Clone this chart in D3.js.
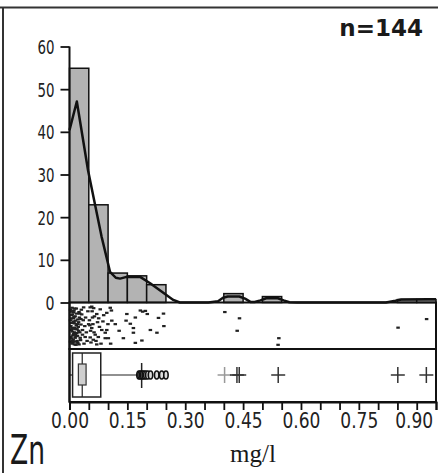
<!DOCTYPE html>
<html><head><meta charset="utf-8">
<script src="https://cdn.jsdelivr.net/npm/d3@7"></script>
<style>
html,body{margin:0;padding:0;background:#fff;}
svg{display:block;}
</style></head>
<body>
<svg id="chart" width="438" height="473"></svg>
<script>
// ---------- data ----------
const binStarts = [0.00, 0.05, 0.10, 0.15, 0.20, 0.40, 0.50, 0.85, 0.90];
const binPercent = [54.9, 22.9, 6.9, 6.25, 4.17, 2.08, 1.39, 0.69, 0.69];
const binWidth = 0.05;

const densX = [0, 0.019, 0.048, 0.066, 0.083, 0.105, 0.12, 0.131, 0.148, 0.183, 0.209, 0.244, 0.269, 0.286, 0.36, 0.385, 0.398, 0.41, 0.44, 0.455, 0.47, 0.48, 0.495, 0.51, 0.54, 0.555, 0.57, 0.59, 0.82, 0.845, 0.86, 0.93, 0.95];
const densY = [40.4, 47.1, 31, 23, 15.5, 7.2, 5.8, 5.6, 6.0, 6.0, 4.5, 2.2, 0.6, 0, 0, 0.3, 1.1, 1.4, 1.4, 0.9, 0.1, 0.1, 0.5, 1.0, 1.0, 0.5, 0.05, 0, 0, 0.4, 0.7, 0.75, 0.75];

// strip plot points: [value mg/l, vertical jitter 0..1]
const stripPoints = [
[0.002,0.08],[0.004,0.30],[0.006,0.55],[0.003,0.78],[0.008,0.92],[0.010,0.15],[0.005,0.42],[0.012,0.66],[0.007,0.20],[0.009,0.85],
[0.011,0.38],[0.013,0.05],[0.004,0.60],[0.015,0.72],[0.006,0.95],[0.014,0.25],[0.017,0.48],[0.002,0.35],[0.019,0.88],[0.008,0.12],
[0.016,0.58],[0.010,0.70],[0.021,0.33],[0.003,0.50],[0.012,0.97],[0.018,0.18],[0.007,0.64],[0.020,0.45],[0.005,0.82],[0.023,0.62],
[0.011,0.10],[0.014,0.90],[0.025,0.28],[0.009,0.40],[0.016,0.76],[0.022,0.52],[0.004,0.22],[0.013,0.54],[0.027,0.80],[0.006,0.03],
[0.018,0.68],[0.024,0.14],[0.010,0.30],[0.029,0.46],[0.015,0.36],[0.002,0.90],[0.021,0.93],[0.008,0.74],[0.026,0.66],[0.012,0.43],
[0.031,0.20],[0.017,0.05],[0.005,0.13],[0.028,0.86],[0.019,0.58],[0.033,0.60],[0.009,0.57],[0.023,0.40],[0.014,0.80],[0.035,0.35],
[0.007,0.88],[0.030,0.08],[0.020,0.75],[0.037,0.95],[0.011,0.26],[0.026,0.18],[0.039,0.50],[0.016,0.98],[0.033,0.72],[0.041,0.28],
[0.024,0.97],[0.043,0.66],[0.013,0.70],[0.036,0.02],[0.045,0.88],[0.029,0.32],[0.047,0.12],[0.040,0.78],[0.049,0.45],
[0.053,0.02],[0.057,0.00],[0.062,0.04],[0.070,0.19],[0.079,0.07],[0.096,0.16],[0.057,0.55],[0.083,0.60],[0.092,0.67],[0.096,0.60],
[0.053,0.79],[0.092,0.81],[0.051,0.35],[0.055,0.92],[0.060,0.45],[0.064,0.25],[0.066,0.72],[0.058,0.12],[0.068,0.88],[0.072,0.40],
[0.054,0.62],[0.075,0.30],[0.061,0.85],[0.077,0.52],[0.052,0.48],[0.081,0.95],[0.063,0.66],[0.086,0.38],[0.059,0.28],[0.070,0.97],
[0.088,0.22],[0.074,0.78],[0.099,0.45],
[0.105,0.03],[0.108,0.10],[0.109,0.36],[0.100,0.81],[0.106,0.95],[0.118,0.45],[0.146,0.36],[0.148,0.19],[0.139,0.81],[0.128,0.62],
[0.157,0.44],[0.165,0.55],[0.165,0.67],[0.170,0.28],[0.170,0.93],[0.183,0.10],[0.189,0.13],[0.196,0.11],[0.187,0.87],
[0.201,0.19],[0.209,0.60],[0.226,0.67],[0.230,0.29],[0.243,0.18],[0.244,0.50],
[0.402,0.14],[0.440,0.30],[0.434,0.62],[0.542,0.81],[0.540,0.98],[0.851,0.54],[0.925,0.32]
];

// box plot summary
const boxOuter = [0.008, 0.081];
const boxInner = [0.023, 0.043];
const boxMedian = 0.033;
const whiskerLow = 0.0;
const whiskerHigh = 0.187;
const nearOutliers = [0.180, 0.183, 0.187, 0.190, 0.194, 0.198, 0.203, 0.210, 0.226, 0.239, 0.250];
const farOutliers = [0.402, 0.434, 0.440, 0.541, 0.851, 0.925];

const yTicks = [0, 10, 20, 30, 40, 50, 60];
const xTicks = [0,0.05,0.10,0.15,0.20,0.25,0.30,0.35,0.40,0.45,0.50,0.55,0.60,0.65,0.70,0.75,0.80,0.85,0.90,0.95];
const xLabels = [0.00, 0.15, 0.30, 0.45, 0.60, 0.75, 0.90];

const element = "Zn";
const unit = "mg/l";
const nLabel = "n=144";

// ---------- drawing ----------
const svg = d3.select("#chart");
const narrow = "'Liberation Sans Narrow','Arial Narrow','DejaVu Sans Condensed',sans-serif";

const x = d3.scaleLinear().domain([0, 0.95]).range([69.5, 436]);
const y = d3.scaleLinear().domain([0, 60]).range([302.5, 46.5]);
const yStrip = d3.scaleLinear().domain([0, 1]).range([306.5, 345.5]);
const boxTop = 353, boxBot = 397, boxMid = 375;

// outer frame (scanned page border)
svg.append("line").attr("x1",0).attr("x2",438).attr("y1",7.5).attr("y2",7.5).attr("stroke","#333").attr("stroke-width",2);
svg.append("line").attr("x1",3).attr("x2",3).attr("y1",7.5).attr("y2",473).attr("stroke","#333").attr("stroke-width",2);

// histogram bars
svg.append("g").selectAll("rect").data(binStarts).join("rect")
  .attr("x", (d) => x(d))
  .attr("width", (d) => x(d + binWidth) - x(d))
  .attr("y", (d, i) => y(binPercent[i]))
  .attr("height", (d, i) => y(0) - y(binPercent[i]))
  .attr("fill", "#b3b3b3")
  .attr("stroke", "#111")
  .attr("stroke-width", 1.5);

// density curve
const line = d3.line().x((d) => x(d[0])).y((d) => y(d[1]));
svg.append("path").datum(densX.map((v, i) => [v, densY[i]]))
  .attr("d", line).attr("fill", "none").attr("stroke", "#111").attr("stroke-width", 2.5)
  .attr("stroke-linejoin","round");

// panels
svg.append("rect").attr("x", x(0)).attr("y", y(0)).attr("width", x(0.95) - x(0)).attr("height", 349 - y(0))
  .attr("fill", "none").attr("stroke", "#111").attr("stroke-width", 2);
svg.append("rect").attr("x", x(0)).attr("y", 349).attr("width", x(0.95) - x(0)).attr("height", 402 - 349)
  .attr("fill", "none").attr("stroke", "#111").attr("stroke-width", 2);

// strip points
svg.append("g").selectAll("rect").data(stripPoints).join("rect")
  .attr("x", (d) => x(d[0]) - 1.5)
  .attr("y", (d) => yStrip(d[1]) - 1)
  .attr("width", 3.5).attr("height", 2.2)
  .attr("fill", "#222");

// box plot
const gb = svg.append("g");
gb.append("line").attr("x1", x(whiskerLow)).attr("x2", x(boxOuter[0])).attr("y1", boxMid).attr("y2", boxMid).attr("stroke","#222").attr("stroke-width",1.2);
gb.append("line").attr("x1", x(boxOuter[1])).attr("x2", x(whiskerHigh)).attr("y1", boxMid).attr("y2", boxMid).attr("stroke","#222").attr("stroke-width",1.2);
gb.append("line").attr("x1", x(whiskerHigh)).attr("x2", x(whiskerHigh)).attr("y1", 363).attr("y2", 388).attr("stroke","#222").attr("stroke-width",1.5);
gb.append("rect").attr("x", x(boxOuter[0])).attr("y", boxTop).attr("width", x(boxOuter[1]) - x(boxOuter[0])).attr("height", boxBot - boxTop)
  .attr("fill","none").attr("stroke","#222").attr("stroke-width",1.5);
gb.append("line").attr("x1", x(boxMedian)).attr("x2", x(boxMedian)).attr("y1", boxTop).attr("y2", boxBot).attr("stroke","#222").attr("stroke-width",1.2);
gb.append("rect").attr("x", x(boxInner[0])).attr("y", 364).attr("width", x(boxInner[1]) - x(boxInner[0])).attr("height", 21)
  .attr("fill","#cfcfcf").attr("stroke","#333").attr("stroke-width",1.2);
gb.selectAll("ellipse").data(nearOutliers).join("ellipse")
  .attr("cx", (d) => x(d)).attr("cy", boxMid).attr("rx", 2.2).attr("ry", 4)
  .attr("fill", "#ddd").attr("stroke", "#111").attr("stroke-width", 1.6);
gb.selectAll("path.cross").data(farOutliers).join("path").attr("class","cross")
  .attr("d", (d) => `M${x(d)-7},${boxMid}H${x(d)+7}M${x(d)},${boxMid-8}V${boxMid+8}`)
  .attr("stroke", (d, i) => i === 0 ? "#999" : "#333").attr("stroke-width", 1.5).attr("fill","none");

// y axis
const yAxis = svg.append("g").attr("transform", `translate(${x(0)},0)`)
  .call(d3.axisLeft(y).tickValues(yTicks).tickSize(9).tickPadding(6).tickFormat(d3.format("d")));
yAxis.select(".domain").remove();
yAxis.selectAll(".tick line").attr("stroke","#111").attr("stroke-width",1.8);
yAxis.selectAll("text").attr("font-family", narrow).attr("font-size", 19).attr("fill","#222").attr("dy","0.36em")
  .attr("textLength", (d) => d === 0 ? 9 : 17).attr("lengthAdjust","spacingAndGlyphs");
svg.append("line").attr("x1", x(0)).attr("x2", x(0)).attr("y1", y(60)).attr("y2", 402).attr("stroke","#111").attr("stroke-width",2);

// x axis
const xAxis = svg.append("g").attr("transform", "translate(0,402)")
  .call(d3.axisBottom(x).tickValues(xTicks).tickSize(8).tickPadding(3)
    .tickFormat((d) => xLabels.some((l) => Math.abs(l - d) < 1e-9) ? d3.format(".2f")(d) : ""));
xAxis.select(".domain").attr("stroke","#111").attr("stroke-width",2);
xAxis.selectAll(".tick line").attr("stroke","#111").attr("stroke-width",1.8);
xAxis.selectAll("text").attr("font-family", narrow).attr("font-size", 21).attr("fill","#222");
xAxis.selectAll(".tick").filter((d) => xLabels.some((l) => Math.abs(l - d) < 1e-9)).select("text")
  .attr("textLength", 38).attr("lengthAdjust","spacingAndGlyphs");
xAxis.selectAll(".tick").filter((d) => Math.abs(d - 0.90) < 1e-9).select("text").attr("dx", -3);

// texts
svg.append("text").attr("x", 423).attr("y", 36).attr("text-anchor","end")
  .attr("font-family","'DejaVu Sans',sans-serif").attr("font-weight","bold").attr("font-size",23).attr("fill","#1a1a1a").text(nLabel);
svg.append("text").attr("x", 10).attr("y", 464)
  .attr("font-family", narrow).attr("font-size", 41).attr("fill","#1a1a1a")
  .attr("textLength", 35).attr("lengthAdjust","spacingAndGlyphs").text(element);
svg.append("text").attr("x", 253).attr("y", 462).attr("text-anchor","middle")
  .attr("font-family","'Liberation Serif','Times New Roman',serif").attr("font-size",25).attr("fill","#1a1a1a").text(unit);
</script>
</body></html>
